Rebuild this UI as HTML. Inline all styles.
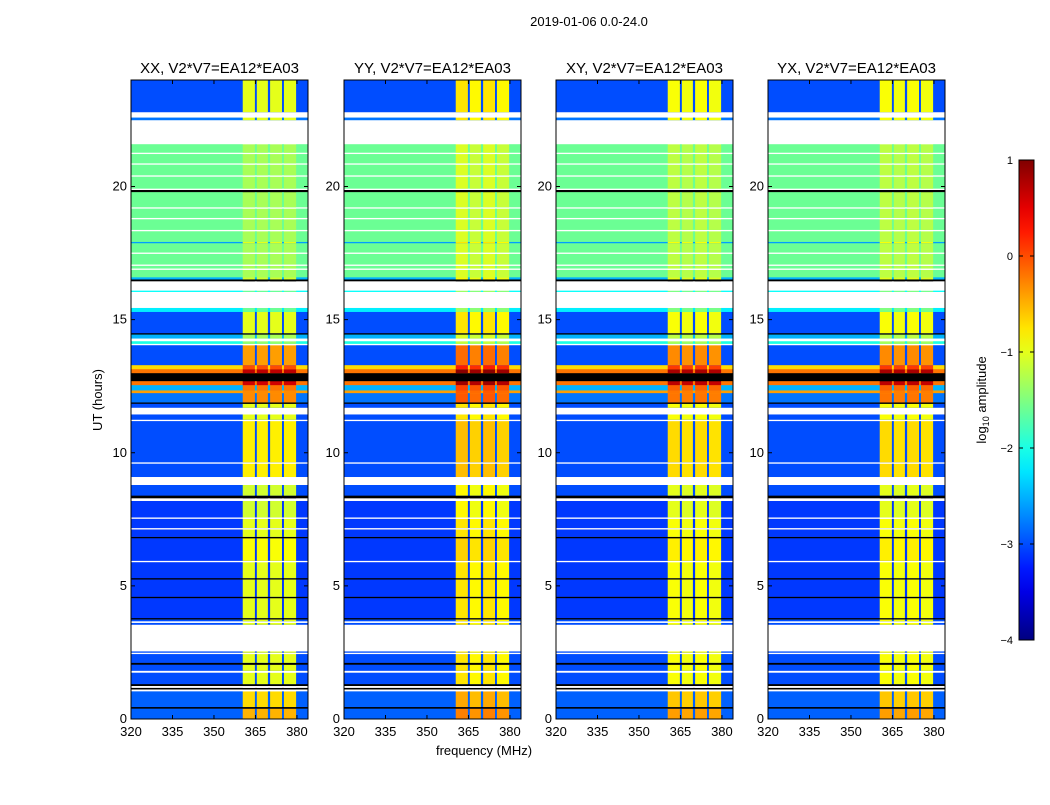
<!DOCTYPE html>
<html><head><meta charset="utf-8">
<style>
html,body{margin:0;padding:0;background:#fff;}
svg text{font-family:"Liberation Sans",sans-serif;}
</style></head>
<body>
<svg id="fig" width="1050" height="800" xmlns="http://www.w3.org/2000/svg">
<text x="589" y="26" font-size="13" text-anchor="middle">2019-01-06 0.0-24.0</text>
<text x="0" y="0" font-size="13" text-anchor="middle" transform="translate(102,400) rotate(-90)">UT (hours)</text>
<text x="484" y="755" font-size="13" text-anchor="middle">frequency (MHz)</text>
<g id="panels"></g>
<g id="cbar"></g>
</svg>
<script>
const panelTitles = ["XX, V2*V7=EA12*EA03","YY, V2*V7=EA12*EA03","XY, V2*V7=EA12*EA03","YX, V2*V7=EA12*EA03"];
const panelRfiOffset = [0, 0.25, 0.1, 0.1];
const yTicks = [0,5,10,15,20];
const xTicks = [320,335,350,365,380];
const cbarTicks = [1,0,-1,-2,-3,-4];
// time segments (hours); "w" = flagged (white), "k" = black
const segStart = [0.00,0.40,0.46,1.05,1.12,1.18,1.25,1.32,1.75,1.82,
                  2.05,2.12,2.45,2.50,2.55,3.55,3.62,3.68,3.75,3.80,
                  4.55,4.60,5.25,5.30,5.90,5.95,6.80,6.85,7.13,7.18,
                  7.53,7.58,8.20,8.30,8.40,8.80,9.10,9.60,9.65,11.20,
                  11.25,11.45,11.70,11.85,11.90,12.25,12.35,12.55,12.70,13.00,
                  13.15,13.30,14.05,14.10,14.20,14.30,14.45,14.50,15.30,15.45,
                  16.05,16.10,16.45,16.52,16.60,16.88,16.93,17.03,17.08,17.48,
                  17.53,17.88,17.93,18.33,18.38,18.78,18.83,19.18,19.23,19.80,
                  19.88,19.93,20.38,20.43,20.83,20.88,21.23,21.28,21.60,22.50,
                  22.60,22.80];
const segEnd   = [0.40,0.46,1.05,1.12,1.18,1.25,1.32,1.75,1.82,2.05,
                  2.12,2.45,2.50,2.55,3.55,3.62,3.68,3.75,3.80,4.55,
                  4.60,5.25,5.30,5.90,5.95,6.80,6.85,7.13,7.18,7.53,
                  7.58,8.20,8.30,8.40,8.80,9.10,9.60,9.65,11.20,11.25,
                  11.45,11.70,11.85,11.90,12.25,12.35,12.55,12.70,13.00,13.15,
                  13.30,14.05,14.10,14.20,14.30,14.45,14.50,15.30,15.45,16.05,
                  16.10,16.45,16.52,16.60,16.88,16.93,17.03,17.08,17.48,17.53,
                  17.88,17.93,18.33,18.38,18.78,18.83,19.18,19.23,19.80,19.88,
                  19.93,20.38,20.43,20.83,20.88,21.23,21.28,21.60,22.50,22.60,
                  22.80,24.00];
const segBg    = [-2.9,"k",-2.9,"w","k","w","k",-3.0,"w",-3.0,
                  "k",-3.0,"w",-3.0,"w",-3.0,"w",-3.0,"k",-3.1,
                  "k",-3.1,"k",-3.1,"w",-3.1,"k",-3.1,"w",-3.1,
                  "w",-3.1,"w","k",-3.0,"w",-3.0,"w",-3.0,"w",
                  -3.0,"w",-3.0,"k",-2.8,-0.4,-2.5,-0.2,"k",-0.2,
                  -0.7,-3.0,"w",-2.0,"w",-2.5,"k",-3.0,-2.2,"w",
                  -2.1,"w","k",-2.5,-1.6,"w",-1.6,"w",-1.6,"w",
                  -1.6,-2.6,-1.6,"w",-1.6,"w",-1.6,"w",-1.6,"k",
                  "w",-1.6,"w",-1.6,"w",-1.6,"w",-1.6,"w",-2.8,
                  "w",-3.0];
const segRfi   = [-0.5,"k",-0.7,"w","k","w","k",-1.0,"w",-1.0,
                  "k",-1.0,"w",-1.0,"w",-1.0,"w",-1.0,"k",-1.0,
                  "k",-1.0,"k",-1.0,"w",-0.9,"k",-1.0,"w",-1.0,
                  "w",-1.1,"w","k",-1.1,"w",-0.8,"w",-0.8,"w",
                  -1.0,"w",-1.0,"k",-0.3,-0.3,-0.2,0.6,"k",0.7,
                  0.0,-0.4,"w",-1.4,"w",-1.3,"k",-1.0,-1.6,"w",
                  -1.6,"w","k",-1.1,-1.3,"w",-1.3,"w",-1.3,"w",
                  -1.3,-1.0,-1.3,"w",-1.3,"w",-1.3,"w",-1.3,"k",
                  "w",-1.3,"w",-1.3,"w",-1.3,"w",-1.3,"w",-1.0,
                  "w",-1.0];
// RFI frequency columns (MHz)
const rfiStart = [360.4,365.5,370.3,375.3];
const rfiEnd   = [364.8,369.5,374.6,379.7];

const fMin=320, fMax=384, tMin=0, tMax=24;
const panelLeft=[131,344,556,768], panelW=177, panelTop=80, panelH=639;
const NS="http://www.w3.org/2000/svg";
function el(tag, attrs){const e=document.createElementNS(NS,tag);for(const k in attrs)e.setAttribute(k,attrs[k]);return e;}
function jet(v){
  let t=Math.max(0,Math.min(1,(v+4)/5));
  const c=x=>Math.round(255*Math.max(0,Math.min(1,x)));
  const r=c(Math.min(4*t-1.5,-4*t+4.5)), g=c(Math.min(4*t-0.5,-4*t+3.5)), b=c(Math.min(4*t+0.5,-4*t+2.5));
  return `rgb(${r},${g},${b})`;
}
function col(v){ if(v==="w")return "#ffffff"; if(v==="k")return "#000000"; return jet(v); }
const panels=document.getElementById('panels');
panelTitles.forEach((title,p)=>{
  const x0=panelLeft[p];
  const xs=f=>x0+(f-fMin)/(fMax-fMin)*panelW;
  const ys=t=>panelTop+panelH-(t-tMin)/(tMax-tMin)*panelH;
  const g=el('g',{});
  
  
  for(let i=0;i<segStart.length;i++){
    const y1=ys(segEnd[i]), y2=ys(segStart[i]);
    const r=el('rect',{x:x0,y:y1,width:panelW,height:y2-y1+0.3,fill:col(segBg[i])});
    
    
    g.appendChild(r);
    for(let j=0;j<rfiStart.length;j++){
      let v=segRfi[i]; if(typeof v==="number") v=v+panelRfiOffset[p]*(j%2===0?1:0.6);
      const c=el('rect',{x:xs(rfiStart[j]),y:y1,width:xs(rfiEnd[j])-xs(rfiStart[j]),height:y2-y1+0.3,fill:col(v)});
      
      
      g.appendChild(c);
    }
  }
  const frame=el('rect',{x:x0,y:panelTop,width:panelW,height:panelH,fill:'none',stroke:'#000','stroke-width':1});
  
  
  g.appendChild(frame);
  const tt=el('text',{x:x0+panelW/2,y:73,'font-size':15,'text-anchor':'middle'});
  tt.textContent=title;
  
  
  g.appendChild(tt);
  yTicks.forEach(t=>{
    const y=ys(t);
    g.appendChild(el('line',{x1:x0,x2:x0+4,y1:y,y2:y,stroke:'#000'}));
    g.appendChild(el('line',{x1:x0+panelW,x2:x0+panelW-4,y1:y,y2:y,stroke:'#000'}));
    const l=el('text',{x:x0-4,y:y+4,'font-size':13,'text-anchor':'end'});
    l.textContent=t;
    
    
    g.appendChild(l);
  });
  xTicks.forEach(f=>{
    const x=xs(f);
    g.appendChild(el('line',{x1:x,x2:x,y1:panelTop+panelH,y2:panelTop+panelH-4,stroke:'#000'}));
    g.appendChild(el('line',{x1:x,x2:x,y1:panelTop,y2:panelTop+4,stroke:'#000'}));
    const l=el('text',{x:x,y:736,'font-size':13,'text-anchor':'middle'});
    l.textContent=f;
    
    
    g.appendChild(l);
  });
  panels.appendChild(g);
});
const cb=document.getElementById('cbar');
const cbX=1019,cbW=15,cbTop=160,cbH=480;
const defs=el('defs',{});
const grad=el('linearGradient',{id:'jetg',x1:0,y1:1,x2:0,y2:0});
for(let i=0;i<=20;i++){const v=-4+5*i/20;grad.appendChild(el('stop',{offset:i/20,'stop-color':jet(v)}));}
defs.appendChild(grad);cb.appendChild(defs);
const cbr=el('rect',{x:cbX,y:cbTop,width:cbW,height:cbH,fill:'url(#jetg)',stroke:'#000'});


cb.appendChild(cbr);
cbarTicks.forEach(v=>{
  const y=cbTop+(1-v)/5*cbH;
  cb.appendChild(el('line',{x1:cbX,x2:cbX+4,y1:y,y2:y,stroke:'#000'}));
  cb.appendChild(el('line',{x1:cbX+cbW,x2:cbX+cbW-4,y1:y,y2:y,stroke:'#000'}));
  const l=el('text',{x:cbX-6,y:y+4,'font-size':11,'text-anchor':'end'});
  l.textContent=(v<0?'\u2212':'')+Math.abs(v);
  
  
  cb.appendChild(l);
});
const cl=el('text',{x:0,y:0,'font-size':13,'text-anchor':'middle',transform:'translate(986,400) rotate(-90)'});
cl.innerHTML='log<tspan font-size="9" dy="3">10</tspan><tspan dy="-3"> amplitude</tspan>';


cb.appendChild(cl);
</script>
</body></html>
